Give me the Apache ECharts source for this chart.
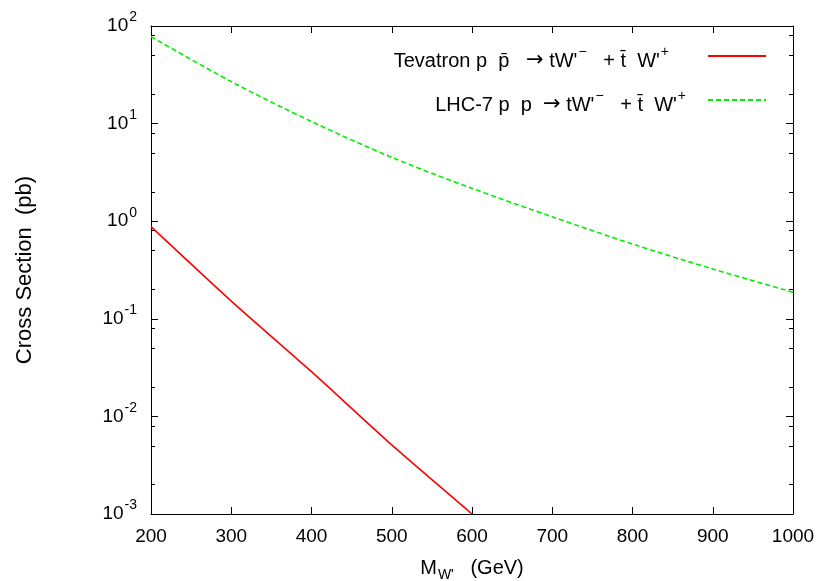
<!DOCTYPE html>
<html>
<head>
<meta charset="utf-8">
<script src="https://cdn.jsdelivr.net/npm/echarts@6/dist/echarts.min.js"></script>
<style>
html,body{margin:0;padding:0;background:#fff;}
#chart{width:830px;height:581px;}
</style>
</head>
<body>
<div id="chart"></div>
<script>
// ---- data ----
const massGeV = [200, 300, 400, 500, 600, 700, 800, 900, 1000];
const tevatronMass = [200, 300, 400, 500, 600];
const tevatronXsec = [0.88, 0.152, 0.0287, 0.0051, 0.001];
const lhcXsec = [77.6, 26.9, 10.5, 4.51, 2.17, 1.11, 0.583, 0.324, 0.187];
const seriesNames = ["Tevatron p p\u0304 \u2192 tW'\u207b + t\u0304 W'\u207a", "LHC-7 p p \u2192 tW'\u207b + t\u0304 W'\u207a"];
const xTickLabels = ['200', '300', '400', '500', '600', '700', '800', '900', '1000'];
const yTickValues = [0.001, 0.01, 0.1, 1, 10, 100];
const yTickExponents = ['-3', '-2', '-1', '0', '1', '2'];
const yMinorMantissas = [2, 5, 8];
const xTitle = 'M';
const xTitleSub = "W'";
const xTitleUnit = '(GeV)';
const yTitle = 'Cross Section  (pb)';

// ---- chart ----
const FONT = 'Liberation Sans';
const chart = echarts.init(document.getElementById('chart'), null, {renderer: 'canvas'});

const logMin = Math.log10(yTickValues[0]);
const logMax = Math.log10(yTickValues[yTickValues.length - 1]);
// fine category scaffold (log-space steps of 0.001) used only to place the minor ticks
const STEP = 0.001;
const nCat = Math.round((logMax - logMin) / STEP) + 1;
const minorCats = [];
for (let i = 0; i < nCat; i++) minorCats.push(String(i));
const minorIdx = new Set();
for (let d = logMin; d < logMax; d++) {
  yMinorMantissas.forEach(m => minorIdx.add(Math.round((d + Math.log10(m) - logMin) / STEP)));
}

function yLabel(value) {
  const e = Math.round(Math.log10(value));
  const idx = yTickValues.findIndex(v => Math.round(Math.log10(v)) === e);
  return '{b|10}{s|' + yTickExponents[idx] + '}';
}
const yLabelRich = {
  b: {fontSize: 19, lineHeight: 19, fontFamily: FONT, color: '#000', verticalAlign: 'bottom'},
  s: {fontSize: 14, lineHeight: 14, fontFamily: FONT, color: '#000', verticalAlign: 'bottom', padding: [0, 0, 11, 1]}
};

const legendRich = {
  b: {fontSize: 20, lineHeight: 20, fontFamily: FONT, color: '#000', verticalAlign: 'bottom'},
  a: {fontSize: 21, lineHeight: 20, fontFamily: 'DejaVu Sans', color: '#000', verticalAlign: 'bottom'},
  s: {fontSize: 14, lineHeight: 14, fontFamily: FONT, color: '#000', verticalAlign: 'bottom', padding: [0, 0, 12, 1]},
  g1: {width: 34, fontSize: 10, verticalAlign: 'bottom'},
  g2: {width: 17, fontSize: 10, verticalAlign: 'bottom'}
};
function legendFmt(name) {
  if (name === seriesNames[0]) {
    return "{b|Tevatron p  p\u0304   }{a|\u2192}{b| tW'}{s|\u2212}{b|   + t\u0304  W'}{s|+}{g1| }";
  }
  return "{b|LHC-7 p  p  }{a|\u2192}{b| tW'}{s|\u2212}{b|   + t\u0304  W'}{s|+}{g2| }";
}

const axisLineStyle = {color: '#000', width: 1};
const legendCommon = {
  right: 63, orient: 'horizontal', align: 'right',
  itemWidth: 58, itemHeight: 10, padding: 0, selectedMode: false,
  formatter: legendFmt,
  itemStyle: {color: 'rgba(0,0,0,0)', borderColor: 'rgba(0,0,0,0)', borderWidth: 0},
  textStyle: {rich: legendRich, padding: [10, 0, 0, 0]}
};

const option = {
  animation: false,
  backgroundColor: '#fff',
  grid: {left: 151, right: 37, top: 26, bottom: 67, containLabel: false, outerBoundsMode: 'none'},
  legend: [
    Object.assign({}, legendCommon, {data: [seriesNames[0]], top: 45}),
    Object.assign({}, legendCommon, {data: [seriesNames[1]], top: 89})
  ],
  xAxis: [
    {
      type: 'value', position: 'bottom', min: 200, max: 1000, interval: 100,
      axisLine: {show: true, onZero: false, lineStyle: axisLineStyle},
      axisTick: {show: true, inside: true, length: 7, lineStyle: axisLineStyle},
      splitLine: {show: false},
      axisLabel: {
        margin: 13, fontSize: 19, fontFamily: FONT, color: '#000',
        formatter: v => xTickLabels[massGeV.indexOf(v)] || ''
      },
      name: '{b|' + xTitle + '}{s|' + xTitleSub + '}{b|   ' + xTitleUnit + '}',
      nameLocation: 'middle', nameGap: 44,
      nameTextStyle: {
        rich: {
          b: {fontSize: 20, lineHeight: 20, fontFamily: FONT, color: '#000', verticalAlign: 'top'},
          s: {fontSize: 14, lineHeight: 14, fontFamily: FONT, color: '#000', verticalAlign: 'top', padding: [10, 0, 0, 1]}
        }
      }
    },
    {
      type: 'value', position: 'top', min: 200, max: 1000, interval: 100,
      axisLine: {show: true, onZero: false, lineStyle: axisLineStyle},
      axisTick: {show: true, inside: true, length: 7, lineStyle: axisLineStyle},
      splitLine: {show: false},
      axisLabel: {show: false}
    }
  ],
  yAxis: [
    {
      type: 'log', logBase: 10, position: 'left', min: yTickValues[0], max: yTickValues[yTickValues.length - 1],
      splitNumber: 5,
      axisLine: {show: true, onZero: false, lineStyle: axisLineStyle},
      axisTick: {show: true, inside: true, length: 7, lineStyle: axisLineStyle},
      minorTick: {show: false},
      splitLine: {show: false},
      axisLabel: {margin: 14, formatter: yLabel, rich: yLabelRich},
      name: yTitle, nameLocation: 'middle', nameRotate: 90, nameGap: 115,
      nameTextStyle: {fontSize: 22, fontFamily: FONT, color: '#000'}
    },
    {
      type: 'category', position: 'left', data: minorCats, boundaryGap: false,
      axisLine: {show: false, onZero: false},
      axisTick: {show: true, inside: true, length: 4, lineStyle: axisLineStyle, interval: idx => minorIdx.has(idx)},
      splitLine: {show: false},
      axisLabel: {show: false}
    },
    {
      type: 'log', logBase: 10, position: 'right', min: yTickValues[0], max: yTickValues[yTickValues.length - 1],
      splitNumber: 5,
      axisLine: {show: true, onZero: false, lineStyle: axisLineStyle},
      axisTick: {show: true, inside: true, length: 7, lineStyle: axisLineStyle},
      splitLine: {show: false},
      axisLabel: {show: false}
    },
    {
      type: 'category', position: 'right', data: minorCats, boundaryGap: false,
      axisLine: {show: false, onZero: false},
      axisTick: {show: true, inside: true, length: 4, lineStyle: axisLineStyle, interval: idx => minorIdx.has(idx)},
      splitLine: {show: false},
      axisLabel: {show: false}
    }
  ],
  series: [
    {
      name: seriesNames[0], type: 'line', xAxisIndex: 0, yAxisIndex: 0,
      data: tevatronMass.map((m, i) => [m, tevatronXsec[i]]),
      symbol: 'none', smooth: 0.2,
      lineStyle: {color: '#ff0000', width: 1.6, type: 'solid'},
      itemStyle: {color: '#ff0000'}
    },
    {
      name: seriesNames[1], type: 'line', xAxisIndex: 0, yAxisIndex: 0,
      data: massGeV.map((m, i) => [m, lhcXsec[i]]),
      symbol: 'none', smooth: 0.3,
      lineStyle: {color: '#00ee00', width: 1.6, type: [5, 3]},
      itemStyle: {color: '#00ee00'}
    }
  ]
};
chart.setOption(option);
</script>
</body>
</html>
